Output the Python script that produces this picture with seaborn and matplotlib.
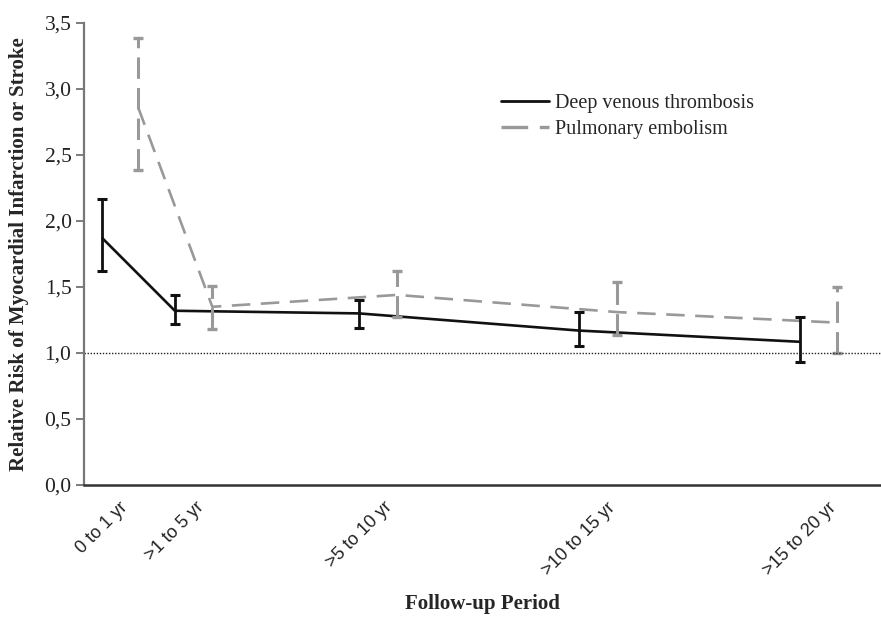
import pandas as pd
import matplotlib
matplotlib.use("Agg")
import matplotlib.pyplot as plt
import seaborn as sns
from matplotlib.lines import Line2D
from matplotlib.ticker import FuncFormatter

# periodos de seguimiento
periodos = ["0 to 1 yr", ">1 to 5 yr", ">5 to 10 yr", ">10 to 15 yr", ">15 to 20 yr"]
pos_dvt = [2.3, 11.4, 34.5, 62.1, 89.8]
pos_pe = [6.8, 16.1, 39.3, 66.9, 94.5]

# riesgo relativo e intervalos
rr_dvt = [1.87, 1.32, 1.30, 1.17, 1.085]
lo_dvt = [1.62, 1.22, 1.19, 1.05, 0.93]
hi_dvt = [2.17, 1.44, 1.40, 1.31, 1.27]

rr_pe = [2.86, 1.35, 1.44, 1.31, 1.23]
lo_pe = [2.39, 1.18, 1.27, 1.135, 1.00]
hi_pe = [3.39, 1.51, 1.62, 1.54, 1.50]

series = ["Deep venous thrombosis", "Pulmonary embolism"]

df = pd.DataFrame({
    "x": pos_dvt + pos_pe,
    "rr": rr_dvt + rr_pe,
    "serie": [series[0]] * 5 + [series[1]] * 5,
})

sns.set_style("white")
plt.rcParams["font.family"] = ["Liberation Serif", "DejaVu Serif"]

negro = "#111111"
gris = "#999999"

fig = plt.figure(figsize=(8.81, 6.17), dpi=100)
ax = fig.add_axes([84 / 881, 132 / 617, 797 / 881, 462 / 617])

sns.lineplot(data=df, x="x", y="rr", hue="serie", style="serie",
             palette={series[0]: negro, series[1]: gris},
             dashes={series[0]: "", series[1]: (7, 4)},
             estimator=None, sort=False, linewidth=1.9, legend=False, ax=ax)

# barras de error
eb1 = ax.errorbar(pos_dvt, rr_dvt,
                  yerr=[[r - l for r, l in zip(rr_dvt, lo_dvt)], [h - r for r, h in zip(rr_dvt, hi_dvt)]],
                  fmt="none", ecolor=negro, elinewidth=2.0, capsize=3.6, capthick=2.2)
eb2 = ax.errorbar(pos_pe, rr_pe,
                  yerr=[[r - l for r, l in zip(rr_pe, lo_pe)], [h - r for r, h in zip(rr_pe, hi_pe)]],
                  fmt="none", ecolor=gris, elinewidth=2.2, capsize=3.6, capthick=2.4)
for lc in eb2[2]:
    lc.set_linestyle((0, (7, 3)))

ax.axhline(1.0, color="#222222", linestyle=(0, (1, 1.2)), linewidth=1.0)

ax.set_xlim(0, 100)
ax.set_ylim(0, 3.5)
ax.set_yticks([0, 0.5, 1.0, 1.5, 2.0, 2.5, 3.0, 3.5])
ax.yaxis.set_major_formatter(FuncFormatter(lambda v, p: f"{v:.1f}".replace(".", ",")))
ax.tick_params(axis="y", left=True, length=6, width=1.2, color="#666666", pad=3,
               labelsize=15.5, labelcolor="#222222")

ax.set_xticks(pos_dvt)
ax.set_xticklabels(periodos, rotation=45, ha="center", fontsize=13,
                   family=["Liberation Sans", "DejaVu Sans"], color="#222222")
ax.tick_params(axis="x", length=0, pad=10)

for s in ["top", "right"]:
    ax.spines[s].set_visible(False)
ax.spines["left"].set_color("#777777")
ax.spines["left"].set_linewidth(1.6)
ax.spines["bottom"].set_color("#333333")
ax.spines["bottom"].set_linewidth(1.8)

ax.set_ylabel("Relative Risk of Myocardial Infarction or Stroke", fontsize=15, fontweight="bold")
ax.yaxis.set_label_coords(-0.082, 0.5)
ax.yaxis.label.set_va("center")
ax.set_xlabel("Follow-up Period", fontsize=15, fontweight="bold")
ax.xaxis.set_label_coords(0.5, -0.235)
ax.xaxis.label.set_va("top")

handles = [Line2D([], [], color=negro, linewidth=2.0),
           Line2D([], [], color=gris, linewidth=2.4, dashes=(8, 3.5))]
ax.legend(handles, series, loc="upper left", bbox_to_anchor=(0.5, 0.885),
          frameon=False, fontsize=14.5, handlelength=2.4, handletextpad=0.3,
          labelspacing=0.35)

fig.savefig("out.png", dpi=100)
